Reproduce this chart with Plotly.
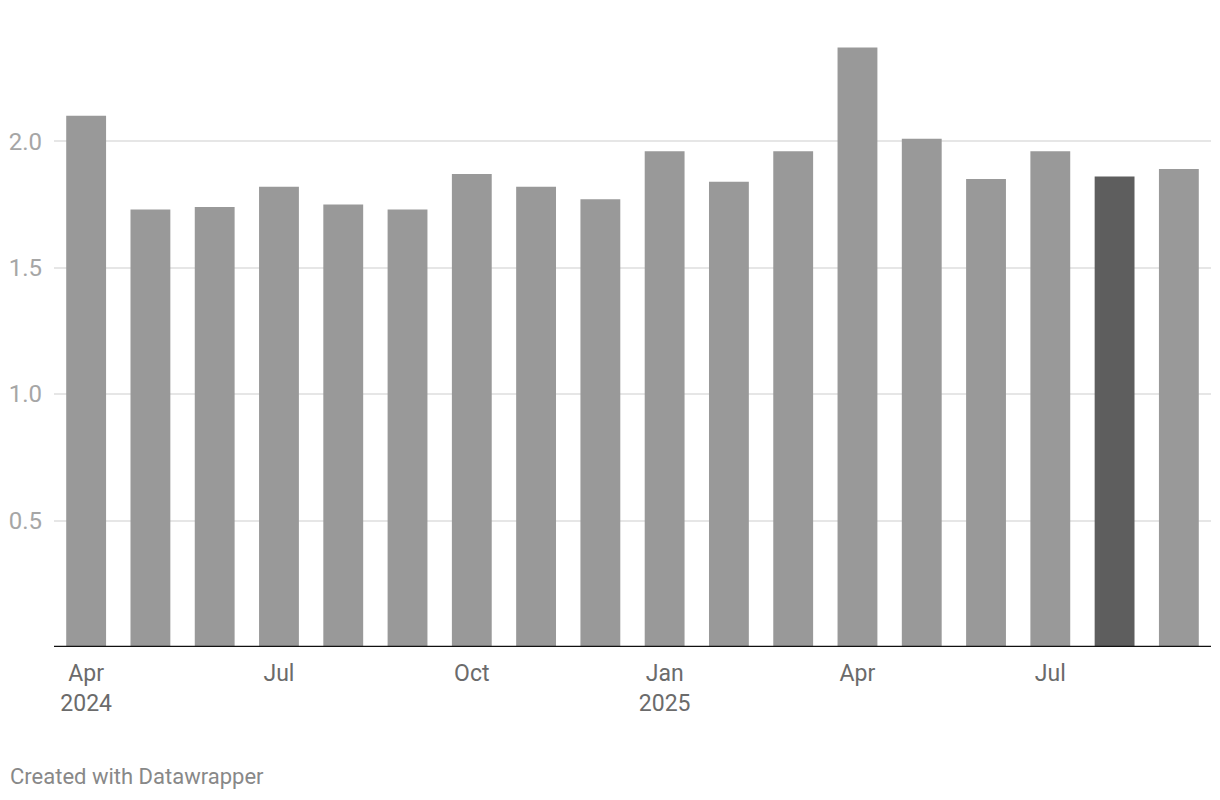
import plotly.graph_objects as go

months = ["Apr 2024", "May 2024", "Jun 2024", "Jul 2024", "Aug 2024", "Sep 2024",
          "Oct 2024", "Nov 2024", "Dec 2024", "Jan 2025", "Feb 2025", "Mar 2025",
          "Apr 2025", "May 2025", "Jun 2025", "Jul 2025", "Aug 2025", "Sep 2025"]
values = [2.10, 1.73, 1.74, 1.82, 1.75, 1.73, 1.87, 1.82, 1.77, 1.96, 1.84, 1.96,
          2.37, 2.01, 1.85, 1.96, 1.86, 1.89]
highlight = "Aug 2025"
tick_months = ["Apr 2024", "Jul 2024", "Oct 2024", "Jan 2025", "Apr 2025", "Jul 2025"]
tick_labels = ["Apr<br>2024", "Jul", "Oct", "Jan<br>2025", "Apr", "Jul"]
y_ticks = [0.5, 1.0, 1.5, 2.0]
y_tick_labels = ["0.5", "1.0", "1.5", "2.0"]

colors = ["#5e5e5e" if m == highlight else "#999999" for m in months]

L, R, T, B = 46, 17, 32, 161
PW, PH = 1220 - L - R, 800 - T - B

fig = go.Figure(go.Bar(x=months, y=values, marker_color=colors, marker_line_width=0,
                       width=0.62, hoverinfo="x+y"))

fig.update_layout(
    width=1220, height=800,
    margin=dict(l=L, r=R, t=T, b=B, autoexpand=False),
    paper_bgcolor="white", plot_bgcolor="white",
    font=dict(family="Roboto, sans-serif"),
    showlegend=False,
    xaxis=dict(type="category", tickmode="array", tickvals=tick_months, ticktext=tick_labels,
               tickfont=dict(size=23, color="#6b6b6b"), showgrid=False, ticks="",
               showline=False, zeroline=False, range=[-0.5, 17.5], automargin=False,
               ticklabelstandoff=10),
    yaxis=dict(range=[0, 2.4], tickmode="array", tickvals=y_ticks, ticktext=y_tick_labels,
               tickfont=dict(size=24, color="#a6a6a6"), showgrid=True, gridcolor="#e6e6e6",
               gridwidth=2, zeroline=False, showline=False, ticks="", ticklabelstandoff=11,
               automargin=False),
    shapes=[dict(type="line", xref="paper", yref="y", x0=0, x1=1, y0=0, y1=0,
                 line=dict(color="#111111", width=2.5))],
    annotations=[dict(text="Created with Datawrapper", xref="paper", yref="paper",
                      x=(0 - L) / PW, y=-(768 - (T + PH)) / PH, xanchor="left", yanchor="middle",
                      showarrow=False, font=dict(size=22, color="#888888"))],
)

fig.write_html("out.html")
